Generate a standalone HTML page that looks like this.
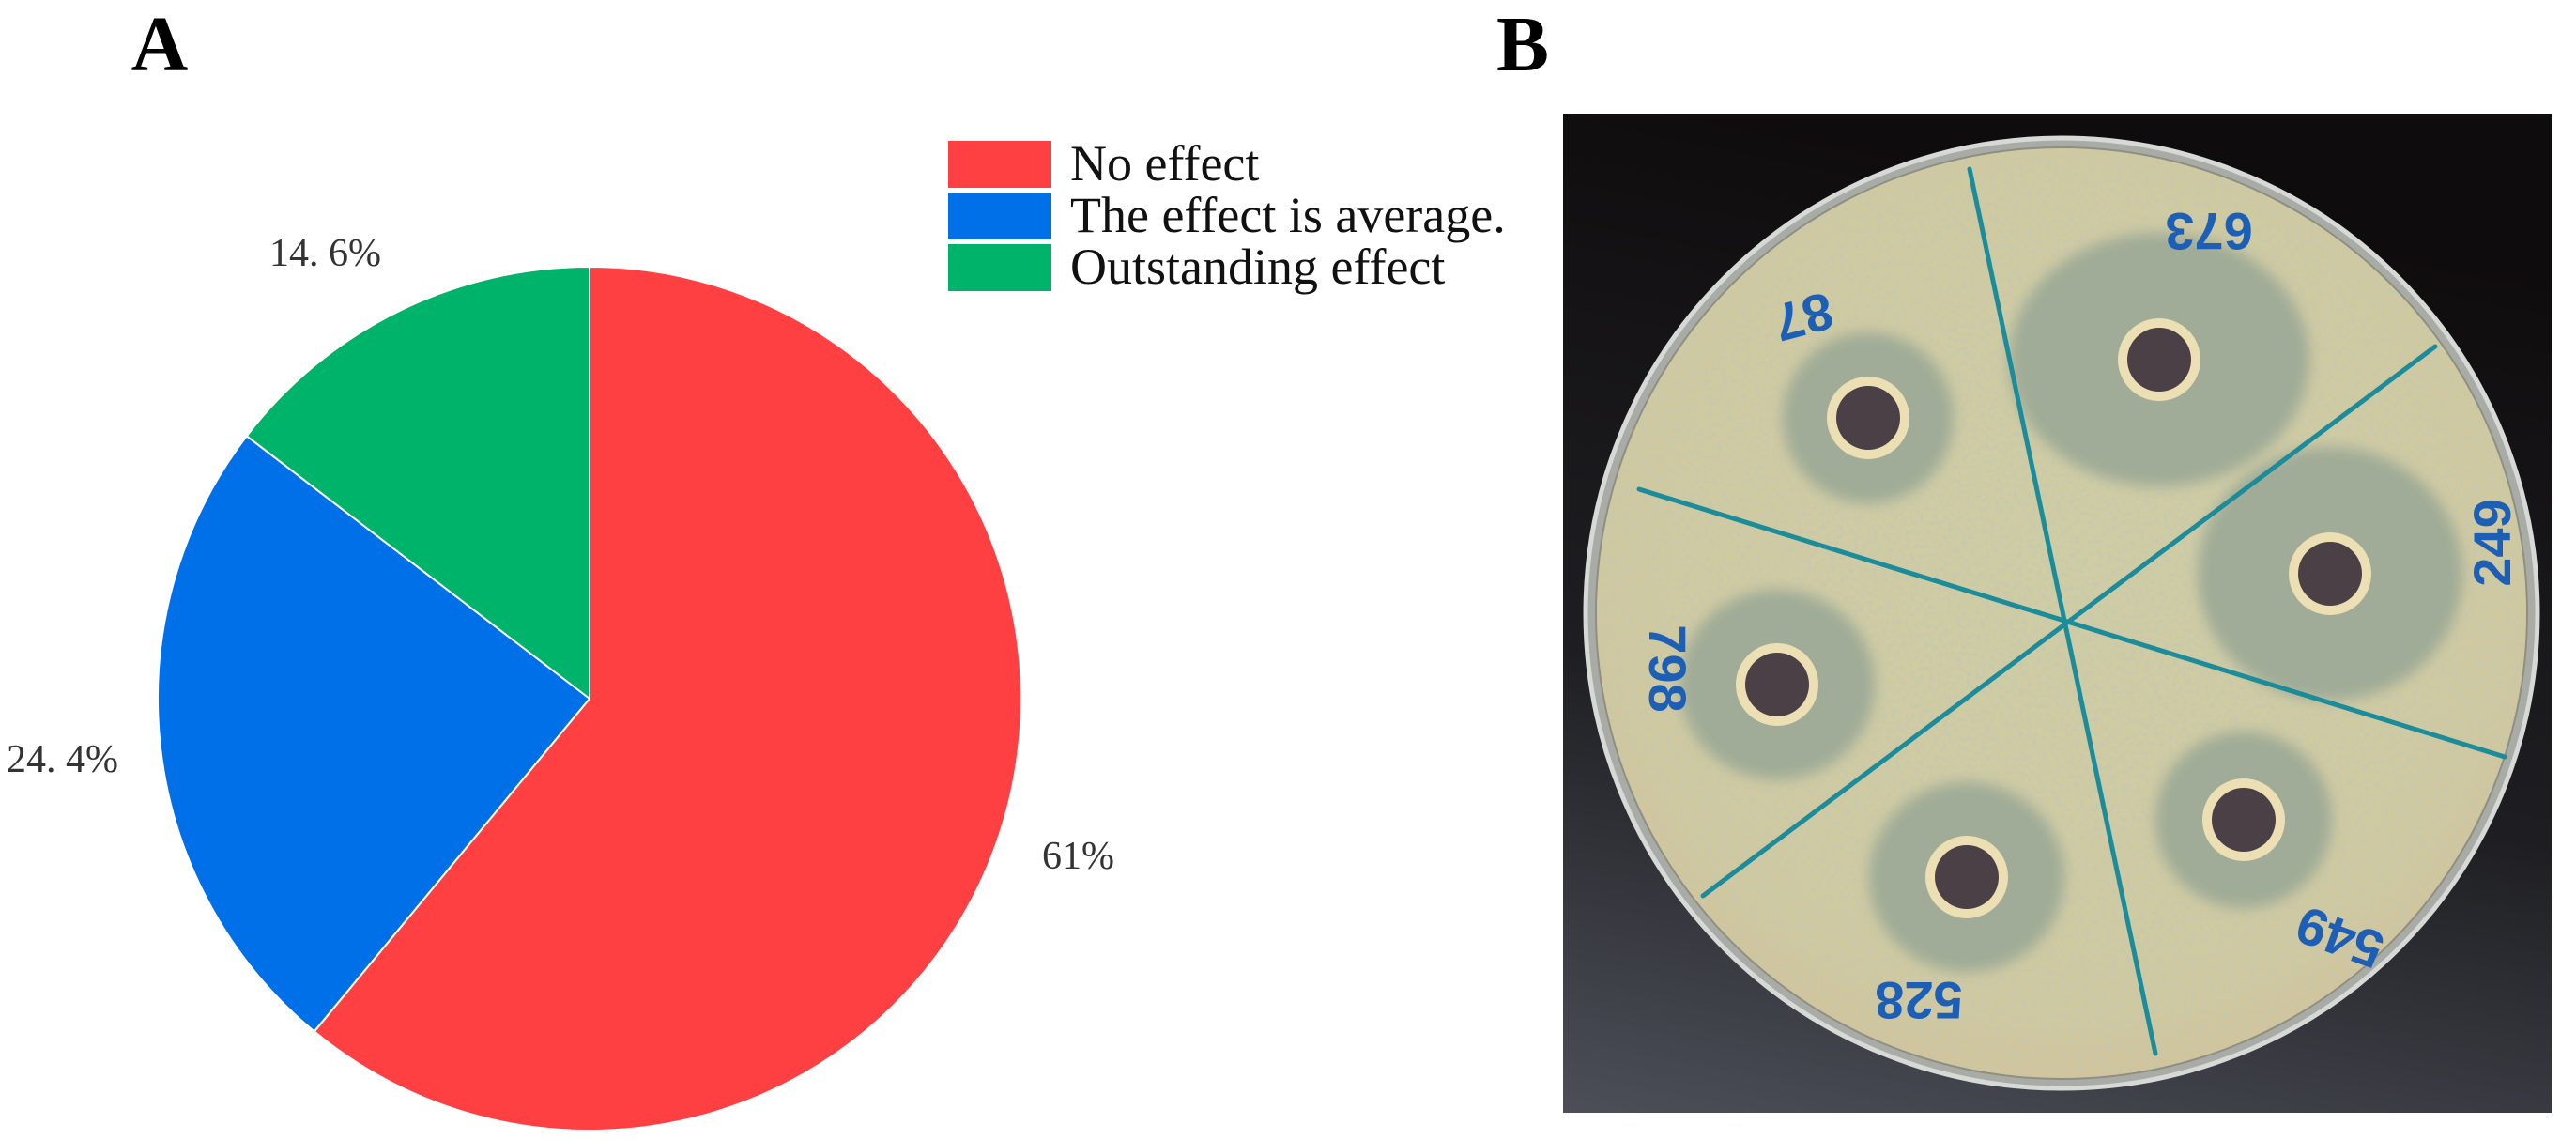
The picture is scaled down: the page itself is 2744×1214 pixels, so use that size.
<!DOCTYPE html>
<html><head><meta charset="utf-8"><style>
html,body{margin:0;padding:0;background:#fff;}
body{width:2744px;height:1214px;overflow:hidden;position:relative;font-family:"Liberation Serif",serif;}
svg{position:absolute;left:0;top:0;}
</style></head><body>
<svg id="fig" width="2744" height="1214" viewBox="0 0 2744 1214" xmlns="http://www.w3.org/2000/svg">
<defs>
<filter id="speck" x="0" y="0" width="100%" height="100%">
<feTurbulence type="fractalNoise" baseFrequency="0.2" numOctaves="2" seed="3" result="n"/>
<feColorMatrix in="n" type="matrix" values="0 0 0 0 0.55  0 0 0 0 0.58  0 0 0 0 0.45  0 0 0 4 -1.8" result="s"/>
<feComposite in="s" in2="SourceGraphic" operator="in"/>
</filter>
<filter id="blur8"><feGaussianBlur stdDeviation="7"/></filter>
<linearGradient id="bg" x1="0.2" y1="0" x2="0" y2="1">
<stop offset="0" stop-color="#0f0c0d"/><stop offset="0.55" stop-color="#1e1e22"/><stop offset="1" stop-color="#4c4f58"/>
</linearGradient>
<radialGradient id="agar" cx="0.5" cy="0.45" r="0.6">
<stop offset="0" stop-color="#cfcda4"/><stop offset="0.8" stop-color="#d0c9a0"/><stop offset="1" stop-color="#d3c097"/>
</radialGradient>
<clipPath id="dishclip"><ellipse cx="2196" cy="653" rx="495" ry="495"/></clipPath>
</defs>
<text x="170" y="75" text-anchor="middle" font-family="Liberation Serif, serif" font-weight="bold" font-size="84">A</text>
<text x="1622" y="75" text-anchor="middle" font-family="Liberation Serif, serif" font-weight="bold" font-size="84">B</text>
<g id="pie"></g>
<g id="legend"></g>
<g id="photo">
<rect x="1665" y="121" width="1053" height="1064" fill="url(#bg)"/>
<ellipse cx="2196" cy="653" rx="507" ry="506" fill="#a9aca6" stroke="#d6d9d5" stroke-width="5"/>
<ellipse cx="2196" cy="653" rx="497" ry="497" fill="#8d8f82"/>
<ellipse cx="2196" cy="653" rx="495" ry="495" fill="url(#agar)"/>
<rect x="1690" y="150" width="1020" height="1010" fill="#000" filter="url(#speck)" clip-path="url(#dishclip)" opacity="0.6"/>
<g clip-path="url(#dishclip)" id="zones"></g>
<g id="wells"></g>
<g id="lines" stroke="#1c8b9a" stroke-width="5" stroke-linecap="round"></g>
<g id="labels" font-family="Liberation Sans, sans-serif" font-weight="bold" font-size="56" fill="#1e5fb6"></g>
</g>
</svg>
<script>
const NS='http://www.w3.org/2000/svg';
const categories=['No effect','The effect is average.','Outstanding effect'];
const shares=[61,24.4,14.6];
const shareLabels=['61%','24. 4%','14. 6%'];
const colors=['#ff4043','#0070e8','#00b36b'];
const cx=628, cy=744, r=460;
const pie=document.getElementById('pie');
const total=shares.reduce((a,b)=>a+b,0);
function pt(a,rr){return [cx+rr*Math.sin(a), cy-rr*Math.cos(a)];}
let acc=0;
const labelPos=[[1110,925,'start'],[126,822,'end'],[406,283,'end']];
shares.forEach((v,i)=>{
  const a0=acc/total*2*Math.PI; acc+=v; const a1=acc/total*2*Math.PI;
  const p0=pt(a0,r), p1=pt(a1,r);
  const large=(a1-a0)>Math.PI?1:0;
  const path=document.createElementNS(NS,'path');
  path.setAttribute('d',`M${cx},${cy} L${p0[0]},${p0[1]} A${r},${r} 0 ${large} 1 ${p1[0]},${p1[1]} Z`);
  path.setAttribute('fill',colors[i]);
  path.setAttribute('stroke','#ffffff');
  path.setAttribute('stroke-width','2');
  
  
  pie.appendChild(path);
  const t=document.createElementNS(NS,'text');
  t.setAttribute('x',labelPos[i][0]); t.setAttribute('y',labelPos[i][1]);
  t.setAttribute('text-anchor',labelPos[i][2]);
  t.setAttribute('font-size','42'); t.setAttribute('fill','#333');
  t.setAttribute('font-family','Liberation Serif, serif');
  
  
  t.textContent=shareLabels[i];
  pie.appendChild(t);
});
const legend=document.getElementById('legend');
categories.forEach((c,i)=>{
  const y=150+i*55;
  const rc=document.createElementNS(NS,'rect');
  rc.setAttribute('x',1010); rc.setAttribute('y',y); rc.setAttribute('width',110); rc.setAttribute('height',50);
  rc.setAttribute('fill',colors[i]);
  
  
  legend.appendChild(rc);
  const t=document.createElementNS(NS,'text');
  t.setAttribute('x',1140); t.setAttribute('y',y+42);
  t.setAttribute('font-size','54'); t.setAttribute('fill','#111');
  t.setAttribute('font-family','Liberation Serif, serif');
  
  
  t.textContent=c;
  legend.appendChild(t);
});
const wells=[[1990,445,91,91],[2300,383,160,135],[2482,611,141,135],[1893,729,104,101],[2095,934,104,101],[2390,873,94,94]];
const zg=document.getElementById('zones'), wg=document.getElementById('wells');
wells.forEach(w=>{
  const z=document.createElementNS(NS,'ellipse');
  z.setAttribute('cx',w[0]); z.setAttribute('cy',w[1]); z.setAttribute('rx',w[2]); z.setAttribute('ry',w[3]);
  z.setAttribute('fill','#a0ac97'); z.setAttribute('filter','url(#blur8)');
  
  
  zg.appendChild(z);
  const o=document.createElementNS(NS,'circle');
  o.setAttribute('cx',w[0]); o.setAttribute('cy',w[1]); o.setAttribute('r',44); o.setAttribute('fill','#ecdfb4');
  
  
  wg.appendChild(o);
  const d=document.createElementNS(NS,'circle');
  d.setAttribute('cx',w[0]); d.setAttribute('cy',w[1]); d.setAttribute('r',34); d.setAttribute('fill','#4a4045');
  wg.appendChild(d);
});
const lines=[[2098,180,2296,1122],[2594,369,1814,954],[1746,521,2668,806]];
const lg=document.getElementById('lines');
lines.forEach(l=>{
  const e=document.createElementNS(NS,'line');
  e.setAttribute('x1',l[0]);e.setAttribute('y1',l[1]);e.setAttribute('x2',l[2]);e.setAttribute('y2',l[3]);
  
  
  lg.appendChild(e);
});
const labs=[['87',1920,333,165],['673',2353,242,180],['249',2659,578,-90],['798',1772,712,90],['528',2044,1061,180],['549',2494,994,200]];
const lb=document.getElementById('labels');
labs.forEach(l=>{
  const t=document.createElementNS(NS,'text');
  t.setAttribute('x',l[1]);t.setAttribute('y',l[2]);t.setAttribute('text-anchor','middle');t.setAttribute('dominant-baseline','middle');
  t.setAttribute('transform',`rotate(${l[3]} ${l[1]} ${l[2]})`);
  
  
  t.textContent=l[0];
  lb.appendChild(t);
});
</script>
</body></html>
